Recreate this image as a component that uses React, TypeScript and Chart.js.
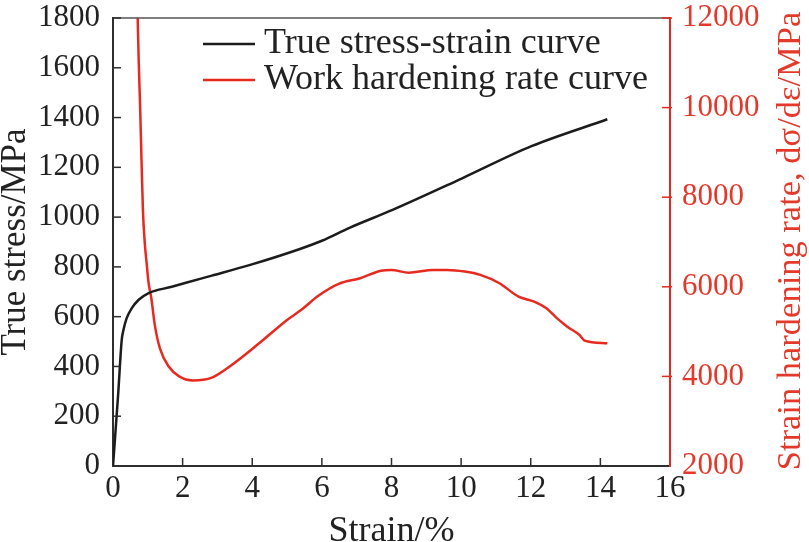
import React, { useEffect, useRef } from "react";
import { Chart, registerables } from "chart.js";

Chart.register(...registerables);

const stressStrain = [0, 0.15, 0.25, 0.3, 0.39, 0.54, 0.73, 1.01, 1.69, 2.5, 2.84, 3.94, 5.37, 6.0, 6.81, 8.03, 10.03, 12.02, 14.2];
const stressValues = [0, 292, 506, 546, 593, 634, 667, 694, 720, 752, 765, 808, 872, 905, 958, 1029, 1156, 1285, 1393];

const rateStrain = [0.7, 0.74, 0.78, 0.82, 0.86, 0.91, 0.97, 1.02, 1.1, 1.2, 1.35, 1.6, 1.9, 2.3, 2.8, 3.4, 4.2, 5.0, 5.4, 5.9, 6.5, 7.1, 7.7, 8.0, 8.5, 9.2, 9.6, 10.1, 10.55, 11.1, 11.65, 12.1, 12.45, 12.75, 13.05, 13.4, 13.55, 14.2];
const rateValues = [12300, 11000, 10000, 8800, 7700, 7000, 6500, 6100, 5750, 5150, 4620, 4220, 4000, 3910, 3960, 4250, 4740, 5260, 5480, 5800, 6070, 6190, 6360, 6375, 6315, 6375, 6375, 6340, 6265, 6080, 5780, 5670, 5520, 5300, 5110, 4925, 4800, 4740];

const seriesLabels = ["True stress-strain curve", "Work hardening rate curve"];
const xTitle = "Strain/%";
const yTitle = "True stress/MPa";
const y1Title = "Strain hardening rate, dσ/dε/MPa";

const RED = "#e62a1f";
const RED_TEXT = "#e3392b";
const BLACK = "#1c1c1c";
const AXIS = "#2e2e2e";
const FONT = "'Liberation Serif', 'Times New Roman', serif";

const plain = (v: any) => String(v);

const decorPlugin = {
  id: "decor",
  afterDraw(chart: any) {
    const { ctx, chartArea } = chart;
    const { left, right, top, bottom } = chartArea;
    ctx.save();
    // top frame
    ctx.strokeStyle = "#555";
    ctx.lineWidth = 1.5;
    ctx.beginPath();
    ctx.moveTo(left, top);
    ctx.lineTo(right, top);
    ctx.stroke();
    // inner ticks
    const len = 8;
    const xs = chart.scales.x;
    ctx.strokeStyle = AXIS;
    ctx.lineWidth = 1.5;
    xs.ticks.forEach((t: any) => {
      const p = xs.getPixelForValue(t.value);
      if (p <= left + 1 || p >= right - 1) return;
      ctx.beginPath();
      ctx.moveTo(p, bottom);
      ctx.lineTo(p, bottom - len);
      ctx.stroke();
    });
    const ys = chart.scales.y;
    ys.ticks.forEach((t: any) => {
      const p = ys.getPixelForValue(t.value);
      if (p >= bottom - 1) return;
      ctx.beginPath();
      ctx.moveTo(left, p);
      ctx.lineTo(left + len, p);
      ctx.stroke();
    });
    const y1 = chart.scales.y1;
    ctx.strokeStyle = RED;
    y1.ticks.forEach((t: any) => {
      const p = y1.getPixelForValue(t.value);
      if (p >= bottom - 1) return;
      ctx.beginPath();
      ctx.moveTo(right + 2, p);
      ctx.lineTo(right - len, p);
      ctx.stroke();
    });
    // right title, reading bottom to top
    ctx.fillStyle = RED_TEXT;
    ctx.font = `34.5px ${FONT}`;
    ctx.textAlign = "center";
    ctx.textBaseline = "middle";
    ctx.translate(791, 241);
    ctx.rotate(-Math.PI / 2);
    ctx.fillText(y1Title, 0, 0);
    ctx.restore();

    // legend
    ctx.save();
    ctx.font = `36px ${FONT}`;
    ctx.textAlign = "left";
    ctx.textBaseline = "middle";
    chart.data.datasets.forEach((ds: any, i: number) => {
      const yy = 44 + i * 36;
      ctx.strokeStyle = ds.borderColor;
      ctx.lineWidth = 2.5;
      ctx.beginPath();
      ctx.moveTo(203, yy);
      ctx.lineTo(255, yy);
      ctx.stroke();
      ctx.fillStyle = "#222";
      ctx.fillText(ds.label, 264, yy);
    });
    ctx.restore();
  },
};

const noPadY = (w: number) => (s: any) => {
  s.width = w;
  s.paddingTop = 0;
  s.paddingBottom = 0;
};

export default function App() {
  const ref = useRef<HTMLCanvasElement | null>(null);
  useEffect(() => {
    if (!ref.current) return;
    const chart = new Chart(ref.current, {
      type: "line",
      data: {
        datasets: [
          {
            label: seriesLabels[0],
            data: stressStrain.map((x, i) => ({ x, y: stressValues[i] })),
            borderColor: BLACK,
            borderWidth: 2.5,
            pointRadius: 0,
            cubicInterpolationMode: "monotone",
            yAxisID: "y",
          },
          {
            label: seriesLabels[1],
            data: rateStrain.map((x, i) => ({ x, y: rateValues[i] })),
            borderColor: RED,
            borderWidth: 2.5,
            pointRadius: 0,
            cubicInterpolationMode: "monotone",
            yAxisID: "y1",
          },
        ],
      },
      options: {
        animation: false,
        responsive: false,
        devicePixelRatio: 1,
        layout: { padding: { top: 18, left: 0, right: 0, bottom: 0 } },
        plugins: { legend: { display: false }, tooltip: { enabled: false } },
        scales: {
          x: {
            type: "linear",
            min: 0,
            max: 16,
            ticks: { stepSize: 2, color: "#222", padding: 4, font: { family: FONT, size: 31 }, callback: plain },
            grid: { drawOnChartArea: false, drawTicks: false },
            border: { color: AXIS, width: 2 },
            title: { display: true, text: xTitle, color: "#222", padding: 0, font: { family: FONT, size: 36, lineHeight: 0.6 } },
            afterFit: (s: any) => {
              s.height = 76;
              s.paddingLeft = 0;
              s.paddingRight = 0;
            },
          },
          y: {
            type: "linear",
            position: "left",
            min: 0,
            max: 1800,
            ticks: { stepSize: 200, color: "#222", padding: 13, font: { family: FONT, size: 31 }, callback: plain },
            grid: { drawOnChartArea: false, drawTicks: false },
            border: { color: AXIS, width: 2 },
            title: { display: true, text: yTitle, color: "#222", padding: 0, font: { family: FONT, size: 35, lineHeight: 0.9 } },
            afterFit: noPadY(113),
          },
          y1: {
            type: "linear",
            position: "right",
            min: 2000,
            max: 12000,
            ticks: { stepSize: 2000, color: RED_TEXT, padding: 12, font: { family: FONT, size: 31 }, callback: plain },
            grid: { drawOnChartArea: false, drawTicks: false },
            border: { color: RED, width: 2 },
            afterFit: noPadY(139),
          },
        },
      },
      plugins: [decorPlugin],
    } as any);
    return () => chart.destroy();
  }, []);
  return (
    <div style={{ position: "fixed", left: 0, top: 0, width: 809, height: 542, background: "#fff" }}>
      <canvas ref={ref} width={809} height={542} />
    </div>
  );
}
